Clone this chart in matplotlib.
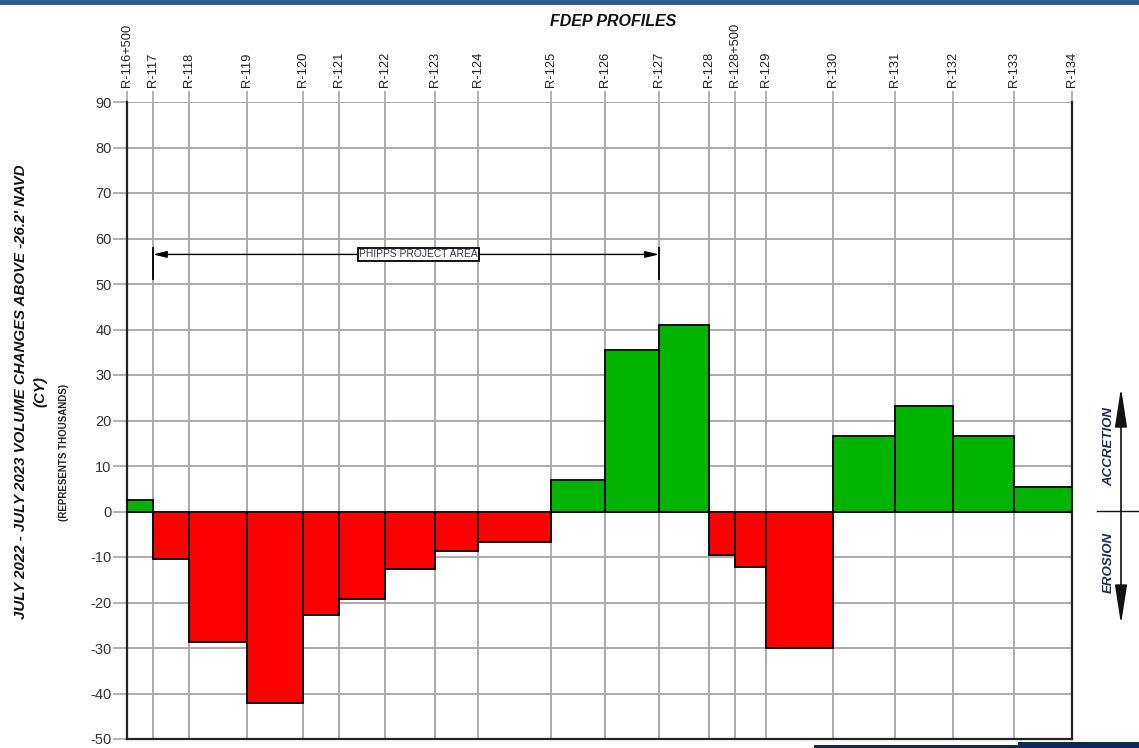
import matplotlib
matplotlib.use("Agg")
import matplotlib.pyplot as plt
from matplotlib.patches import Rectangle, FancyArrowPatch
from matplotlib.lines import Line2D
import numpy as np

plt.rcParams['font.family'] = ['Liberation Sans', 'DejaVu Sans']

# FDEP profile stations and their alongshore positions (relative units)
stations = ["R-116+500", "R-117", "R-118", "R-119", "R-120", "R-121", "R-122",
            "R-123", "R-124", "R-125", "R-126", "R-127", "R-128", "R-128+500",
            "R-129", "R-130", "R-131", "R-132", "R-133", "R-134"]
station_x = [0, 26, 62, 120, 176, 212, 258, 308, 351, 424, 478, 532, 582, 608,
             639, 706, 768, 826, 887, 945]
# Volume change between adjacent profiles (thousands CY)
volume_change = [2.6, -10.5, -28.7, -42.1, -22.8, -19.2, -12.6, -8.7, -6.8,
                 7.0, 35.4, 40.9, -9.5, -12.3, -30.1, 16.5, 23.1, 16.5, 5.3]
y_ticks = [90, 80, 70, 60, 50, 40, 30, 20, 10, 0, -10, -20, -30, -40, -50]
project_start, project_end = "R-117", "R-127"
project_level = 56.5

W, H = 1139, 748
fig = plt.figure(figsize=(W / 100, H / 100), dpi=100)
ax = fig.add_axes([127 / W, 1 - 739 / H, (1072 - 127) / W, (739 - 102) / H])

lefts = np.array(station_x[:-1])
widths = np.diff(station_x)
vals = np.array(volume_change)
colors = ['#00b400' if v > 0 else '#ff0000' for v in vals]
ax.bar(lefts, vals, width=widths, align='edge', color=colors,
       edgecolor='black', linewidth=1.3, zorder=3)

ax.set_xlim(station_x[0], station_x[-1])
ax.set_ylim(-50, 90)
ax.set_yticks(y_ticks)
ax.set_yticklabels([str(t) for t in y_ticks])
ax.set_xticks(station_x)
ax.set_xticklabels(stations, rotation=90)
ax.xaxis.tick_top()
ax.tick_params(axis='x', direction='out', length=8, width=1.2, color='#a6a6a6',
               labelsize=9.3, labelcolor='#222222', pad=3)
ax.tick_params(axis='y', direction='out', length=10, width=1.2, color='#a6a6a6',
               labelsize=10.5, labelcolor='#333333', pad=1)
ax.grid(True, color='#a6a6a6', linewidth=1.3, zorder=0)
ax.set_axisbelow(True)
for s in ['left', 'right', 'bottom']:
    ax.spines[s].set_color('#222222')
    ax.spines[s].set_linewidth(1.6)
ax.spines['top'].set_visible(False)

# Project area dimension line
xs = station_x[stations.index(project_start)]
xe = station_x[stations.index(project_end)]
ax.annotate('', xy=(xs, project_level), xytext=(xe, project_level),
            arrowprops=dict(arrowstyle='<|-|>,head_length=0.9,head_width=0.22',
                            color='black', lw=1.0, mutation_scale=9,
                            shrinkA=0, shrinkB=0), zorder=4)
for xx in (xs, xe):
    ax.plot([xx, xx], [51, 58], color='black', lw=1.3, zorder=4)
ax.text(xs + 0.524 * (xe - xs), project_level, "PHIPPS PROJECT AREA", fontsize=7.4,
        ha='center', va='center', color='#333355', zorder=5,
        bbox=dict(boxstyle='square,pad=0.12', facecolor='white',
                  edgecolor='black', linewidth=1.3))

# Titles / labels
fig.text(613 / W, 1 - 22 / H, "FDEP PROFILES", fontsize=11.5, fontweight='bold',
         fontstyle='italic', ha='center', va='center', color='#111111')
fig.text(21 / W, 1 - 392 / H, "JULY 2022 - JULY 2023 VOLUME CHANGES ABOVE -26.2' NAVD",
         rotation=90, fontsize=10.8, fontweight='bold', fontstyle='italic',
         ha='center', va='center', color='#111111')
fig.text(40 / W, 1 - 392 / H, "(CY)", rotation=90, fontsize=10.8, fontweight='bold',
         fontstyle='italic', ha='center', va='center', color='#111111')
fig.text(64 / W, 1 - 452 / H, "(REPRESENTS THOUSANDS)", rotation=90, fontsize=7,
         fontweight='bold', ha='center', va='center', color='#222222')

# Accretion / erosion indicator
fig.add_artist(FancyArrowPatch(
    (1121 / W, 1 - 385 / H), (1121 / W, 1 - 627 / H), transform=fig.transFigure,
    arrowstyle='<|-|>,head_length=1.1,head_width=0.17', mutation_scale=22,
    color='#111111', lw=1.2))
fig.add_artist(Line2D([1097 / W, 1139 / W], [1 - 511 / H, 1 - 511 / H],
                      transform=fig.transFigure, color='#111111', lw=1.0))
fig.text(1109 / W, 1 - 447 / H, "ACCRETION", rotation=90, fontsize=9.5,
         fontweight='bold', fontstyle='italic', ha='center', va='center', color='#1a2a55')
fig.text(1109 / W, 1 - 562 / H, "EROSION", rotation=90, fontsize=9.5,
         fontweight='bold', fontstyle='italic', ha='center', va='center', color='#1a2a55')

# Page decorations
fig.add_artist(Rectangle((0, 1 - 5 / H), 1, 5 / H, transform=fig.transFigure,
                         facecolor='#2f5e8e', edgecolor='none'))
fig.add_artist(Rectangle((814 / W, 0), (W - 814) / W, 3 / H, transform=fig.transFigure,
                         facecolor='#0f2a4f', edgecolor='none'))
fig.add_artist(Rectangle((1018 / W, 0), (W - 1018) / W, 6 / H, transform=fig.transFigure,
                         facecolor='#0f2a4f', edgecolor='none'))

fig.savefig("out.png", dpi=100)
